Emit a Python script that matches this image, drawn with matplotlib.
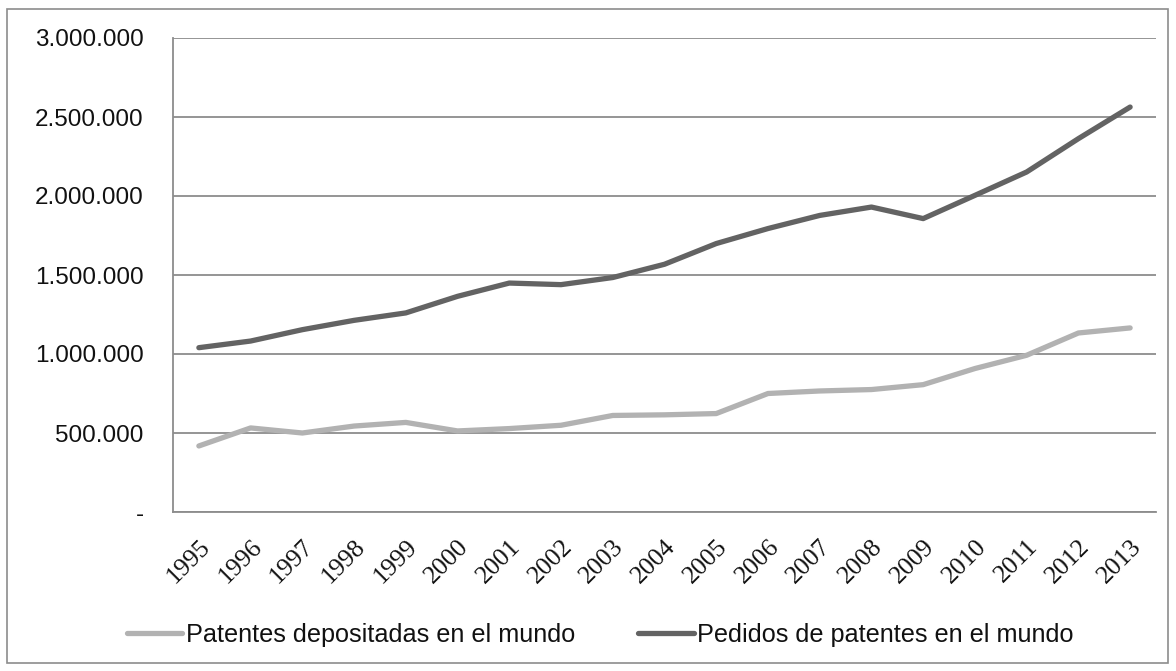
import matplotlib
matplotlib.use("Agg")
import matplotlib.pyplot as plt
from matplotlib.patches import Rectangle

years = [str(y) for y in range(1995, 2014)]
depositadas = [418000, 532000, 500000, 544000, 567000, 513000, 528000, 549000, 611000,
               615000, 623000, 750000, 766000, 775000, 806000, 908000, 992000, 1133000, 1165000]
pedidos = [1040000, 1082000, 1154000, 1213000, 1260000, 1365000, 1449000, 1439000, 1484000,
           1568000, 1699000, 1794000, 1877000, 1930000, 1857000, 2004000, 2152000, 2363000, 2563000]
yticks = [0, 500000, 1000000, 1500000, 2000000, 2500000, 3000000]
ytick_labels = ["-", "500.000", "1.000.000", "1.500.000", "2.000.000", "2.500.000", "3.000.000"]
labels = ["Patentes depositadas en el mundo", "Pedidos de patentes en el mundo"]

plt.rcParams['font.family'] = ['Liberation Sans', 'DejaVu Sans']

W, H = 1176, 671
fig = plt.figure(figsize=(W / 100, H / 100), dpi=100)
fig.patches.append(Rectangle((7 / W, 8 / H), 1161 / W, 654 / H, transform=fig.transFigure,
                             fill=False, edgecolor='#8c8c8c', linewidth=1.2))

ax = fig.add_axes([173 / W, 1 - 512 / H, (1156 - 173) / W, (512 - 38) / H])
x = list(range(len(years)))
ax.plot(x, depositadas, color='#b2b2b2', linewidth=3.8, solid_capstyle='round', label=labels[0])
ax.plot(x, pedidos, color='#636363', linewidth=3.8, solid_capstyle='round', label=labels[1])

ax.set_xlim(-0.5, len(years) - 0.5)
ax.set_ylim(0, 3000000)
ax.set_yticks(yticks)
ax.set_yticklabels(ytick_labels, fontsize=17.5, color='#111111')
ax.set_xticks(x)
ax.set_xticklabels(years, rotation=45, ha='right', rotation_mode='anchor', fontsize=18.5,
                   color='#111111', family=['Liberation Serif', 'DejaVu Serif'])
ax.tick_params(axis='both', length=0)
ax.tick_params(axis='y', pad=21)
ax.tick_params(axis='x', pad=17)
ax.grid(axis='y', color='#8c8c8c', linewidth=1.3)
ax.set_axisbelow(True)
for s in ['top', 'right']:
    ax.spines[s].set_visible(False)
for s in ['left', 'bottom']:
    ax.spines[s].set_color('#8c8c8c')
    ax.spines[s].set_linewidth(1.3)

leg = fig.legend(loc='center', bbox_to_anchor=(600 / W, 1 - 635 / H), ncol=2, frameon=False,
                 fontsize=18.2, handlelength=2.2, handletextpad=0.12, columnspacing=2.5)
for t in leg.get_texts():
    t.set_color('#111111')

fig.savefig('out.png', dpi=100)
